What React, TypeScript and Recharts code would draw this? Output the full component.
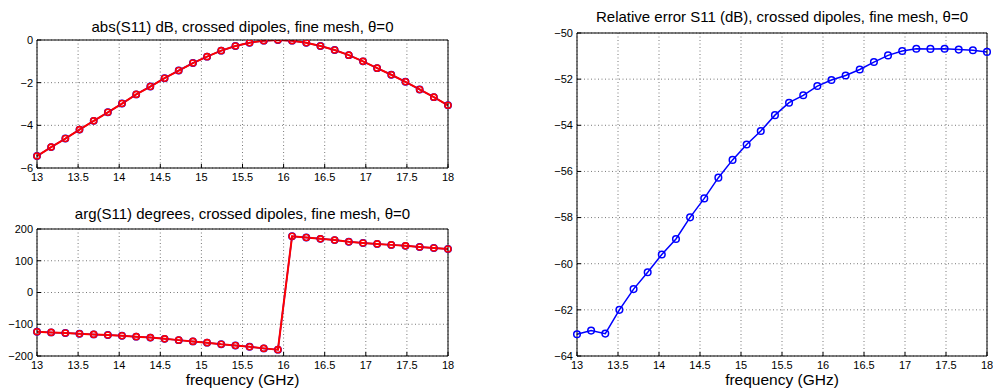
import React from 'react';
import { LineChart, Line, XAxis, YAxis, CartesianGrid } from 'recharts';

const freq = [13, 13.172, 13.345, 13.517, 13.69, 13.862, 14.034, 14.207, 14.379, 14.552, 14.724, 14.897, 15.069, 15.241, 15.414, 15.586, 15.759, 15.931, 16.103, 16.276, 16.448, 16.621, 16.793, 16.966, 17.138, 17.31, 17.483, 17.655, 17.828, 18];

const absS11 = [-5.44, -5.02, -4.62, -4.2, -3.79, -3.39, -2.98, -2.55, -2.18, -1.79, -1.43, -1.08, -0.78, -0.5, -0.28, -0.13, -0.03, 0.0, -0.03, -0.13, -0.28, -0.47, -0.71, -1.0, -1.32, -1.63, -1.96, -2.32, -2.68, -3.06];
const absS11Ref = [-5.44, -5.02, -4.62, -4.2, -3.79, -3.39, -2.98, -2.55, -2.18, -1.79, -1.43, -1.08, -0.78, -0.5, -0.28, -0.13, -0.03, 0.0, -0.03, -0.13, -0.28, -0.47, -0.71, -1.0, -1.32, -1.63, -1.96, -2.32, -2.68, -3.06];

const argS11 = [-123.5, -125.6, -127.7, -129.8, -132, -134, -136, -139, -142, -146, -150, -154, -158, -163, -167, -171, -176, -180, 177, 173, 169, 165, 160, 156, 153, 150, 147, 143.5, 140, 137];
const argS11Ref = [-123.5, -125.6, -127.7, -129.8, -132, -134, -136, -139, -142, -146, -150, -154, -158, -163, -167, -171, -176, -180, 177, 173, 169, 165, 160, 156, 153, 150, 147, 143.5, 140, 137];

const relErr = [-63.06, -62.9, -63.03, -62.0, -61.1, -60.37, -59.6, -58.93, -57.99, -57.17, -56.27, -55.5, -54.83, -54.25, -53.56, -53.02, -52.7, -52.3, -52.04, -51.84, -51.58, -51.26, -50.97, -50.78, -50.68, -50.69, -50.68, -50.72, -50.75, -50.82];

const xTicks = [13, 13.5, 14, 14.5, 15, 15.5, 16, 16.5, 17, 17.5, 18];
const absTicks = [-6, -4, -2, 0];
const argTicks = [-200, -100, 0, 100, 200];
const errTicks = [-64, -62, -60, -58, -56, -54, -52, -50];

const titleAbs = 'abs(S11) dB, crossed dipoles, fine mesh, θ=0';
const titleArg = 'arg(S11) degrees, crossed dipoles, fine mesh, θ=0';
const titleErr = 'Relative error S11 (dB), crossed dipoles, fine mesh, θ=0';
const xLabel = 'frequency (GHz)';

const absData = freq.map((f, i) => ({ f, a: absS11[i], r: absS11Ref[i] }));
const argData = freq.map((f, i) => ({ f, a: argS11[i], r: argS11Ref[i] }));
const errData = freq.map((f, i) => ({ f, e: relErr[i] }));

const FONT = '"Liberation Sans", Arial, Helvetica, sans-serif';
const fmt = (v: number) => String(v).replace('-', '\u2212');

type Props = {
  left: number; top: number; width: number; height: number;
  margin: { top: number; right: number; bottom: number; left: number };
  data: any[]; yDomain: [number, number]; yTicks: number[];
  children: React.ReactNode;
};

function Panel({ left, top, width, height, margin, data, yDomain, yTicks, children }: Props) {
  const tickStyle = { fill: '#000', fontSize: 11, fontFamily: FONT };
  return (
    <div style={{ position: 'absolute', left, top }}>
      <LineChart width={width} height={height} data={data} margin={margin}>
        <CartesianGrid stroke="#555" strokeDasharray="1 2.5" strokeWidth={0.8} />
        <XAxis dataKey="f" type="number" domain={[13, 18]} ticks={xTicks} interval={0}
          tickSize={-4} tickMargin={9} height={20} stroke="#000" tick={tickStyle} tickFormatter={fmt} />
        <XAxis xAxisId="top" orientation="top" mirror dataKey="f" type="number" domain={[13, 18]}
          ticks={xTicks} interval={0} tick={false} tickSize={4} stroke="#000" />
        <YAxis type="number" domain={yDomain} ticks={yTicks} interval={0} tickSize={-4} tickMargin={8}
          width={30} stroke="#000" tick={tickStyle} tickFormatter={fmt} allowDataOverflow />
        <YAxis yAxisId="right" orientation="right" mirror type="number" domain={yDomain} ticks={yTicks}
          interval={0} tick={false} tickSize={4} stroke="#000" />
        {children}
      </LineChart>
    </div>
  );
}

export default function App() {
  return (
    <div style={{ position: 'absolute', left: 0, top: 0, width: 993, height: 390, background: '#fff', overflow: 'hidden' }}>
      <Panel left={0} top={0} width={460} height={190} margin={{ top: 40, right: 12, bottom: 2, left: 7 }}
        data={absData} yDomain={[-6, 0]} yTicks={absTicks}>
        <Line dataKey="r" stroke="#0000ff" strokeWidth={1.5} isAnimationActive={false}
          dot={{ r: 3.2, stroke: '#0000ff', strokeWidth: 1.5, fill: 'none' }} />
        <Line dataKey="a" stroke="#ff0000" strokeWidth={2} isAnimationActive={false}
          dot={{ r: 3, stroke: '#ff0000', strokeWidth: 1.6, fill: 'none' }} />
      </Panel>
      <Panel left={0} top={190} width={460} height={200} margin={{ top: 39, right: 12, bottom: 14, left: 7 }}
        data={argData} yDomain={[-200, 200]} yTicks={argTicks}>
        <Line dataKey="r" stroke="#0000ff" strokeWidth={1.5} isAnimationActive={false}
          dot={{ r: 3.2, stroke: '#0000ff', strokeWidth: 1.5, fill: 'none' }} />
        <Line dataKey="a" stroke="#ff0000" strokeWidth={2} isAnimationActive={false}
          dot={{ r: 3, stroke: '#ff0000', strokeWidth: 1.6, fill: 'none' }} />
      </Panel>
      <Panel left={520} top={0} width={473} height={390} margin={{ top: 33, right: 6, bottom: 14, left: 27 }}
        data={errData} yDomain={[-64, -50]} yTicks={errTicks}>
        <Line dataKey="e" stroke="#0000ff" strokeWidth={1.5} isAnimationActive={false}
          dot={{ r: 3.3, stroke: '#0000ff', strokeWidth: 1.5, fill: 'none' }} />
      </Panel>
      <svg width={993} height={390} style={{ position: 'absolute', left: 0, top: 0, pointerEvents: 'none' }}>
        <g fontFamily={FONT} fill="#000" textAnchor="middle">
          <text x={242.5} y={31.5} fontSize={15}>{titleAbs}</text>
          <text x={242.5} y={219} fontSize={15}>{titleArg}</text>
          <text x={782} y={22} fontSize={15}>{titleErr}</text>
          <text x={242.5} y={385} fontSize={15.5}>{xLabel}</text>
          <text x={782} y={385} fontSize={15.5}>{xLabel}</text>
        </g>
      </svg>
    </div>
  );
}
